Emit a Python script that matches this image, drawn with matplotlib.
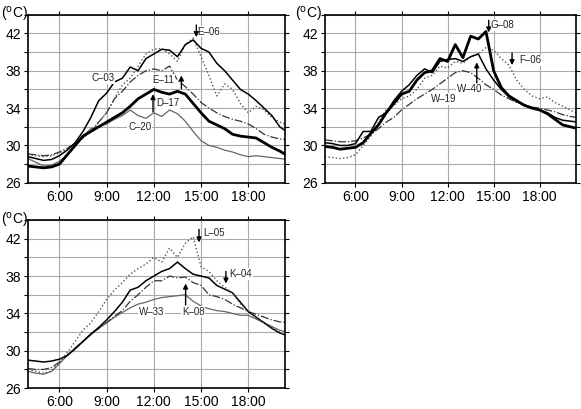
import numpy as np
import matplotlib
matplotlib.use("Agg")
import matplotlib.pyplot as plt
from matplotlib.transforms import blended_transform_factory

plt.rcParams['font.family'] = ['Liberation Sans', 'DejaVu Sans']

# time axis (hours), every 30 minutes
t = np.arange(4.0, 20.51, 0.5)

# panel 1 (top left)
c03 = [28.8, 28.6, 28.4, 28.5, 28.9, 29.5, 30.3, 31.5, 33.0, 34.8, 35.6, 36.8, 37.2, 38.4, 38.0, 39.3, 39.8,
       40.3, 40.2, 39.5, 40.8, 41.3, 40.4, 40.0, 38.8, 38.0, 37.0, 36.0, 35.5, 34.8, 34.0, 33.2, 32.0, 31.4]
e06 = [29.0, 28.9, 28.8, 28.9, 29.2, 29.6, 30.2, 30.8, 31.5, 32.5, 33.5, 35.0, 36.5, 37.2, 38.5, 39.8, 40.3,
       40.4, 39.8, 39.0, 40.8, 41.5, 39.5, 37.5, 35.3, 36.6, 36.0, 34.5, 33.5, 34.2, 33.8, 33.0, 32.5, 32.2]
e11 = [29.1, 29.0, 28.9, 29.0, 29.3, 29.7, 30.2, 30.8, 31.5, 32.5, 33.5, 35.0, 35.8, 36.8, 37.5, 38.0, 38.2,
       38.0, 38.5, 37.0, 36.3, 35.5, 34.6, 34.0, 33.5, 33.1, 32.8, 32.6, 32.3, 31.8, 31.2, 30.9, 30.7, 30.6]
d17 = [27.8, 27.7, 27.6, 27.7, 28.0, 29.0, 30.0, 31.0, 31.5, 32.0, 32.5, 33.0, 33.5, 34.2, 35.0, 35.5, 36.0,
       35.7, 35.5, 35.8, 35.5, 34.5, 33.5, 32.6, 32.2, 31.8, 31.2, 31.0, 30.9, 30.8, 30.3, 29.8, 29.4, 28.9]
c20 = [28.6, 28.2, 27.8, 27.9, 28.3, 29.0, 30.0, 31.0, 31.8, 32.0, 32.3, 32.8, 33.2, 33.8, 33.2, 32.9, 33.5,
       33.1, 33.8, 33.4, 32.6, 31.5, 30.5, 30.0, 29.8, 29.5, 29.3, 29.0, 28.8, 28.9, 28.8, 28.7, 28.6, 28.5]

# panel 2 (top right)
g08 = [29.9, 29.8, 29.6, 29.7, 29.8, 30.3, 31.3, 32.2, 33.5, 34.5, 35.5, 35.8, 37.0, 37.8, 38.0, 39.3, 39.0,
       40.8, 39.4, 41.7, 41.4, 42.2, 38.0, 36.2, 35.3, 34.8, 34.3, 34.0, 33.8, 33.4, 32.8, 32.2, 32.0, 31.8]
w40 = [30.3, 30.2, 30.0, 30.0, 30.2, 31.5, 31.5, 33.0, 33.5, 34.8, 35.8, 36.5, 37.5, 38.2, 37.8, 39.0, 39.2,
       39.3, 39.0, 39.5, 39.8, 38.2, 37.0, 36.0, 35.2, 34.7, 34.3, 34.0, 33.8, 33.5, 33.0, 32.7, 32.6, 32.5]
f06 = [28.8, 28.7, 28.6, 28.7, 29.0, 30.0, 31.0, 32.5, 33.8, 34.3, 35.0, 35.3, 36.0, 37.2, 37.5, 38.5, 38.3,
       39.0, 38.8, 39.5, 39.8, 40.5, 40.2, 39.3, 38.6, 37.0, 36.0, 35.3, 35.0, 35.2, 34.6, 34.2, 33.8, 33.4]
w19 = [30.6, 30.5, 30.4, 30.4, 30.5, 30.8, 31.2, 31.8, 32.5, 33.0, 33.8, 34.4, 35.0, 35.5, 36.0, 36.6, 37.2,
       37.8, 38.0, 37.8, 37.2, 36.5, 36.0, 35.4, 35.0, 34.6, 34.4, 34.1, 34.0, 33.8, 33.6, 33.3, 33.1, 33.0]

# panel 3 (bottom left)
l05 = [28.0, 27.8, 27.6, 27.8, 28.8, 29.8, 31.0, 32.2, 33.0, 34.2, 35.5, 36.5, 37.3, 38.2, 38.8, 39.3, 40.0,
       39.5, 41.0, 40.0, 41.5, 42.2, 39.0, 38.5, 37.5, 36.8, 36.2, 35.0, 34.3, 33.5, 33.0, 32.5, 32.0, 31.5]
k04 = [29.0, 28.9, 28.8, 28.9, 29.1, 29.5, 30.2, 31.0, 31.8, 32.5, 33.3, 34.2, 35.2, 36.5, 36.8, 37.5, 38.0,
       38.5, 38.8, 39.5, 38.8, 38.2, 38.0, 37.8, 37.0, 36.6, 36.2, 35.2, 34.2, 33.6, 33.0, 32.4, 31.9, 31.6]
k08 = [28.1, 28.0, 28.0, 28.2, 28.8, 29.5, 30.3, 31.0, 31.8, 32.4, 33.0, 33.7, 34.3, 35.3, 36.0, 36.8, 37.5,
       37.5, 38.0, 37.8, 37.9, 37.3, 37.0, 36.0, 35.8, 35.5, 35.0, 34.6, 34.2, 33.9, 33.6, 33.3, 33.1, 33.0]
w33 = [27.8, 27.6, 27.5, 27.8, 28.6, 29.5, 30.3, 31.0, 31.7, 32.4, 33.0, 33.6, 34.1, 34.6, 35.0, 35.2, 35.5,
       35.7, 35.8, 35.9, 36.0, 35.3, 34.8, 34.5, 34.3, 34.2, 34.0, 33.8, 33.8, 33.4, 33.0, 32.6, 32.2, 32.0]

hours = [6, 9, 12, 15, 18]
hour_labels = ['6:00', '9:00', '12:00', '15:00', '18:00']

# line styles
st_med = dict(color='k', lw=1.1, ls='-')
st_thick = dict(color='k', lw=2.0, ls='-')
st_dot = dict(color='#555555', lw=1.0, ls=':')
st_dd = dict(color='#333333', lw=0.9, ls='-.')
st_thin = dict(color='#666666', lw=0.9, ls='-')


def setup(ax, unit_x):
    ax.set_xlim(4.0, 20.35)
    ax.set_ylim(26, 44)
    ax.set_xticks(hours)
    ax.set_xticklabels(hour_labels)
    ax.set_yticks(np.arange(26, 45, 2))
    ax.set_yticklabels([str(v) if v % 4 == 2 and v < 44 else '' for v in range(26, 45, 2)])
    ax.grid(True, color='#aaaaaa', lw=0.8)
    ax.set_axisbelow(True)
    ax.tick_params(direction='out', length=3, width=0.8, top=True, right=True, labelsize=10, pad=2)
    for s in ax.spines.values():
        s.set_linewidth(1.2)
    tr = blended_transform_factory(fig.transFigure, ax.transAxes)
    ax.text(unit_x, 1.0, r'($^{\rm o}$C)', transform=tr, ha='left', va='center', fontsize=10)


def label(ax, x, y, s):
    ax.text(x, y, s, fontsize=7, ha='center', va='center', color='#222222',
            bbox=dict(facecolor='white', edgecolor='none', pad=0.6))


def arrow(ax, x, y0, y1):
    ax.annotate('', xy=(x, y1), xytext=(x, y0),
                arrowprops=dict(arrowstyle='-|>', color='k', lw=1.0, mutation_scale=7, shrinkA=0, shrinkB=0))


fig = plt.figure(figsize=(5.81, 4.09), dpi=100)
ax1 = fig.add_axes([0.048, 0.553, 0.443, 0.411])
ax2 = fig.add_axes([0.559, 0.553, 0.432, 0.411])
ax3 = fig.add_axes([0.048, 0.051, 0.443, 0.411])

# top left
setup(ax1, 0.002)
ax1.plot(t, c20, **st_thin)
ax1.plot(t, e11, **st_dd)
ax1.plot(t, e06, **st_dot)
ax1.plot(t, d17, **st_thick)
ax1.plot(t, c03, **st_med)
label(ax1, 8.76, 37.2, 'C\u201303')
label(ax1, 15.45, 42.2, 'E\u201306')
arrow(ax1, 14.7, 42.9, 41.6)
label(ax1, 12.6, 37.0, 'E\u201311')
arrow(ax1, 13.75, 36.1, 37.5)
label(ax1, 12.9, 34.5, 'D\u201317')
arrow(ax1, 11.95, 33.6, 35.5)
label(ax1, 11.1, 32.0, 'C\u201320')

# top right
setup(ax2, 0.508)
ax2.plot(t, w19, **st_dd)
ax2.plot(t, f06, **st_dot)
ax2.plot(t, w40, **st_med)
ax2.plot(t, g08, **st_thick)
label(ax2, 15.6, 42.9, 'G\u201308')
arrow(ax2, 14.68, 43.4, 42.1)
label(ax2, 17.4, 39.1, 'F\u201306')
arrow(ax2, 16.2, 39.9, 38.6)
label(ax2, 13.45, 36.1, 'W\u201340')
arrow(ax2, 13.9, 36.7, 38.9)
label(ax2, 11.76, 35.0, 'W\u201319')

# bottom left
setup(ax3, 0.002)
ax3.plot(t, w33, **st_thin)
ax3.plot(t, k08, **st_dd)
ax3.plot(t, k04, **st_med)
ax3.plot(t, l05, **st_dot)
label(ax3, 15.8, 42.6, 'L\u201305')
arrow(ax3, 14.87, 43.0, 41.6)
label(ax3, 17.5, 38.2, 'K\u201304')
arrow(ax3, 16.58, 38.5, 37.2)
label(ax3, 14.5, 34.2, 'K\u201308')
arrow(ax3, 14.02, 34.9, 37.2)
label(ax3, 11.86, 34.2, 'W\u201333')

fig.savefig('out.png', dpi=100)
